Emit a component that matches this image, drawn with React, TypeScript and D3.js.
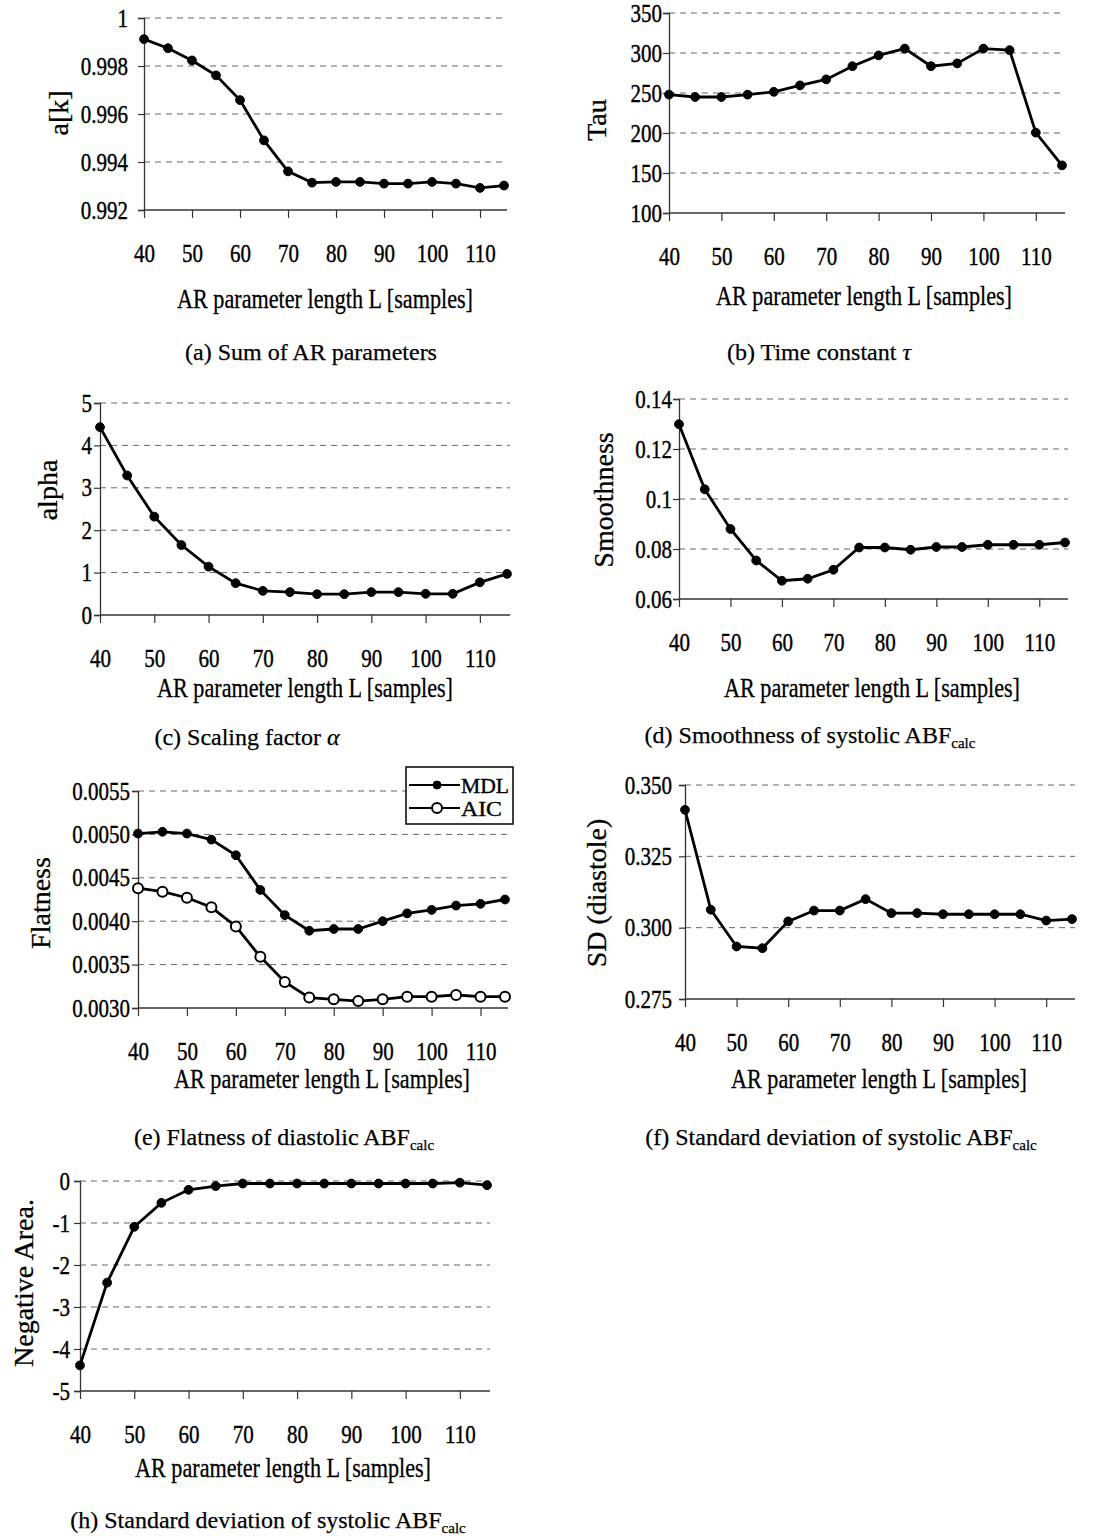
import React, { useEffect, useRef } from 'react';
import * as d3 from 'd3';

// AR parameter length L (samples)
const lengths = [40, 45, 50, 55, 60, 65, 70, 75, 80, 85, 90, 95, 100, 105, 110, 115];
const xTicks = [40, 50, 60, 70, 80, 90, 100, 110];

const sumAR = [0.99912, 0.99874, 0.99823, 0.99761, 0.99658, 0.9949, 0.99361, 0.99314, 0.99317, 0.99317, 0.9931, 0.9931, 0.99317, 0.9931, 0.99292, 0.99302];
const tau = [248, 245, 245, 248, 251.5, 259.5, 267, 283.5, 297, 305.5, 283.5, 287, 305.5, 303.5, 200.5, 159.5];
const alpha = [4.43, 3.29, 2.32, 1.65, 1.14, 0.75, 0.57, 0.54, 0.49, 0.49, 0.54, 0.54, 0.5, 0.5, 0.77, 0.97];
const smoothness = [0.1299, 0.1039, 0.088, 0.0754, 0.0673, 0.0681, 0.0717, 0.0806, 0.0806, 0.0797, 0.0808, 0.0808, 0.0817, 0.0817, 0.0817, 0.0826];
const flatMDL = [0.00501, 0.00503, 0.00501, 0.00494, 0.00476, 0.00436, 0.00407, 0.00389, 0.00391, 0.00391, 0.004, 0.00409, 0.00413, 0.00418, 0.0042, 0.00425];
const flatAIC = [0.00438, 0.00434, 0.00427, 0.00416, 0.00394, 0.00359, 0.0033, 0.00312, 0.0031, 0.00308, 0.0031, 0.00313, 0.00313, 0.00315, 0.00313, 0.00313];
const sdDiastole = [0.3413, 0.3063, 0.2934, 0.2928, 0.3022, 0.306, 0.306, 0.31, 0.3051, 0.3051, 0.3047, 0.3047, 0.3047, 0.3047, 0.3025, 0.303];
const negArea = [-4.39, -2.42, -1.09, -0.52, -0.21, -0.12, -0.06, -0.06, -0.06, -0.06, -0.06, -0.06, -0.06, -0.06, -0.04, -0.1];

const ticksA = [0.992, 0.994, 0.996, 0.998, 1];
const labelsA = ['0.992', '0.994', '0.996', '0.998', '1'];
const ticksB = [100, 150, 200, 250, 300, 350];
const ticksC = [0, 1, 2, 3, 4, 5];
const ticksD = [0.06, 0.08, 0.1, 0.12, 0.14];
const labelsD = ['0.06', '0.08', '0.1', '0.12', '0.14'];
const ticksE = [0.003, 0.0035, 0.004, 0.0045, 0.005, 0.0055];
const labelsE = ['0.0030', '0.0035', '0.0040', '0.0045', '0.0050', '0.0055'];
const ticksF = [0.275, 0.3, 0.325, 0.35];
const labelsF = ['0.275', '0.300', '0.325', '0.350'];
const ticksH = [-5, -4, -3, -2, -1, 0];
const legendNames = ['MDL', 'AIC'];

const FONT = '"Liberation Serif", "Times New Roman", serif';

const panels = [
  { x0: 144, x1: 504, yTop: 18, yBot: 210, ticks: ticksA, labels: labelsA, series: [sumAR], open: [false],
    yTitle: 'a[k]', yTitleX: 58, yTitleY: 113, labelGap: 16, titleY: 308, titleX: 325,
    caption: ['(a) Sum of AR parameters'], capX: 311, capY: 360 },
  { x0: 669, x1: 1062, yTop: 13, yBot: 213, ticks: ticksB, labels: ticksB.map(String), series: [tau], open: [false],
    yTitle: 'Tau', yTitleX: 596, yTitleY: 120, labelGap: 6, titleY: 305, titleX: 864,
    caption: ['(b) Time constant ', 'τ'], capX: 819, capY: 360 },
  { x0: 100, x1: 507, yTop: 403, yBot: 615, ticks: ticksC, labels: ticksC.map(String), series: [alpha], open: [false],
    yTitle: 'alpha', yTitleX: 47, yTitleY: 490, labelGap: 8, titleY: 697, titleX: 305,
    caption: ['(c) Scaling factor ', 'α'], capX: 247, capY: 745 },
  { x0: 679, x1: 1065, yTop: 399, yBot: 599, ticks: ticksD, labels: labelsD, series: [smoothness], open: [false],
    yTitle: 'Smoothness', yTitleX: 603, yTitleY: 500, labelGap: 5, titleY: 697, titleX: 872,
    caption: ['(d) Smoothness of systolic ABF', 'calc'], capX: 810, capY: 743 },
  { x0: 138, x1: 505, yTop: 791, yBot: 1008, ticks: ticksE, labels: labelsE, series: [flatMDL, flatAIC], open: [false, true],
    yTitle: 'Flatness', yTitleX: 40, yTitleY: 903, labelGap: 8, titleY: 1088, titleX: 322,
    caption: ['(e) Flatness of diastolic ABF', 'calc'], capX: 284, capY: 1145 },
  { x0: 685, x1: 1072, yTop: 785, yBot: 999, ticks: ticksF, labels: labelsF, series: [sdDiastole], open: [false],
    yTitle: 'SD (diastole)', yTitleX: 596, yTitleY: 893, labelGap: 13, titleY: 1088, titleX: 879,
    caption: ['(f) Standard deviation of systolic ABF', 'calc'], capX: 841, capY: 1145 },
  { x0: 80, x1: 487, yTop: 1181, yBot: 1391, ticks: ticksH, labels: ticksH.map(String), series: [negArea], open: [false],
    yTitle: 'Negative Area.', yTitleX: 23, yTitleY: 1283, labelGap: 10, titleY: 1477, titleX: 283,
    caption: ['(h) Standard deviation of systolic ABF', 'calc'], capX: 268, capY: 1528 },
];

// condensed, slightly heavy tick text like the scanned original
function styleTickText(sel: d3.Selection<any, any, any, any>) {
  sel
    .attr('fill', '#000')
    .attr('stroke', '#000')
    .attr('stroke-width', 0.4)
    .style('font-family', FONT)
    .style('font-size', '25px')
    .each(function () {
      const node = this as SVGTextElement;
      const w = node.getComputedTextLength();
      d3.select(node).attr('textLength', w * 0.84).attr('lengthAdjust', 'spacingAndGlyphs');
    });
}

export default function App() {
  const ref = useRef<SVGSVGElement>(null);

  useEffect(() => {
    const svg = d3.select(ref.current);
    svg.selectAll('*').remove();
    svg.attr('width', 1114).attr('height', 1538).style('font-family', FONT);

    panels.forEach((p) => {
      const ticks = p.ticks;
      const x = d3.scaleLinear().domain([40, 115]).range([p.x0, p.x1]);
      const y = d3.scaleLinear().domain([d3.min(ticks)!, d3.max(ticks)!]).range([p.yBot, p.yTop]);
      const g = svg.append('g');

      // dashed grid
      g.selectAll('line.grid')
        .data(ticks.slice(1))
        .join('line')
        .attr('x1', p.x0)
        .attr('x2', p.x1 + 3)
        .attr('y1', (d) => y(d))
        .attr('y2', (d) => y(d))
        .attr('stroke', '#666')
        .attr('stroke-width', 1)
        .attr('stroke-dasharray', '6,5');

      // y axis
      const yAxis = g
        .append('g')
        .attr('transform', `translate(${p.x0},0)`)
        .call(
          d3
            .axisLeft(y)
            .tickValues(ticks)
            .tickSize(6)
            .tickPadding(p.labelGap - 6 > 0 ? p.labelGap - 6 : 1)
            .tickFormat((d, i) => p.labels[i])
        );
      yAxis.select('.domain').attr('stroke', '#333').attr('stroke-width', 1.3);
      yAxis.selectAll('.tick line').attr('stroke', '#333').attr('stroke-width', 1.2);
      styleTickText(yAxis.selectAll('.tick text'));

      // x axis
      const xAxis = g
        .append('g')
        .attr('transform', `translate(0,${p.yBot})`)
        .call(d3.axisBottom(x).tickValues(xTicks).tickSize(8).tickSizeOuter(0).tickPadding(26).tickFormat(d3.format('d')));
      xAxis.select('.domain').attr('d', `M${p.x0},0H${p.x1 + 3}`).attr('stroke', '#333').attr('stroke-width', 1.3);
      xAxis.selectAll('.tick line').attr('stroke', '#333').attr('stroke-width', 1.2);
      styleTickText(xAxis.selectAll('.tick text'));

      // series
      const line = d3
        .line<number>()
        .x((d, i) => x(lengths[i]))
        .y((d) => y(d));
      p.series.forEach((s, si) => {
        g.append('path').datum(s).attr('d', line).attr('fill', 'none').attr('stroke', '#000').attr('stroke-width', 2.8);
        g.selectAll(`circle.s${si}`)
          .data(s)
          .join('circle')
          .attr('class', `s${si}`)
          .attr('cx', (d, i) => x(lengths[i]))
          .attr('cy', (d) => y(d))
          .attr('r', p.open[si] ? 5 : 4.4)
          .attr('fill', p.open[si] ? '#fff' : '#000')
          .attr('stroke', '#000')
          .attr('stroke-width', p.open[si] ? 2 : 1);
      });

      // y title
      g.append('text')
        .attr('transform', `translate(${p.yTitleX},${p.yTitleY}) rotate(-90)`)
        .attr('text-anchor', 'middle')
        .attr('dominant-baseline', 'central')
        .attr('stroke', '#000')
        .attr('stroke-width', 0.3)
        .style('font-size', '28px')
        .text(p.yTitle);

      // x title
      g.append('text')
        .attr('x', p.titleX)
        .attr('y', p.titleY)
        .attr('text-anchor', 'middle')
        .attr('textLength', 296)
        .attr('lengthAdjust', 'spacingAndGlyphs')
        .attr('stroke', '#000')
        .attr('stroke-width', 0.3)
        .style('font-size', '27px')
        .text('AR parameter length L [samples]');

      // caption
      const cap = g
        .append('text')
        .attr('x', p.capX)
        .attr('y', p.capY)
        .attr('text-anchor', 'middle')
        .attr('stroke', '#000')
        .attr('stroke-width', 0.25)
        .style('font-size', '24px');
      cap.append('tspan').text(p.caption[0]);
      if (p.caption[1] === 'calc') {
        cap.append('tspan').attr('dy', 5).style('font-size', '15px').text('calc');
      } else if (p.caption[1]) {
        cap.append('tspan').style('font-style', 'italic').text(p.caption[1]);
      }

      // legend for (e)
      if (p.series.length === 2) {
        const lg = g.append('g');
        lg.append('rect')
          .attr('x', 406)
          .attr('y', 767)
          .attr('width', 107)
          .attr('height', 57)
          .attr('fill', '#fff')
          .attr('stroke', '#000')
          .attr('stroke-width', 1.5);
        legendNames.forEach((n, i) => {
          const ly = 785 + i * 23;
          lg.append('line').attr('x1', 409).attr('x2', 460).attr('y1', ly).attr('y2', ly).attr('stroke', '#000').attr('stroke-width', 2.2);
          lg.append('circle')
            .attr('cx', 437)
            .attr('cy', ly)
            .attr('r', p.open[i] ? 5 : 4)
            .attr('fill', p.open[i] ? '#fff' : '#000')
            .attr('stroke', '#000')
            .attr('stroke-width', p.open[i] ? 2 : 1);
          lg.append('text')
            .attr('x', 461)
            .attr('y', ly)
            .attr('dominant-baseline', 'central')
            .attr('stroke', '#000')
            .attr('stroke-width', 0.4)
            .attr('textLength', i === 0 ? 48 : 41)
            .attr('lengthAdjust', 'spacingAndGlyphs')
            .style('font-size', '22px')
            .text(n);
        });
      }
    });
  }, []);

  return <svg ref={ref} style={{ position: 'absolute', left: 0, top: 0, background: '#fff' }}></svg>;
}
